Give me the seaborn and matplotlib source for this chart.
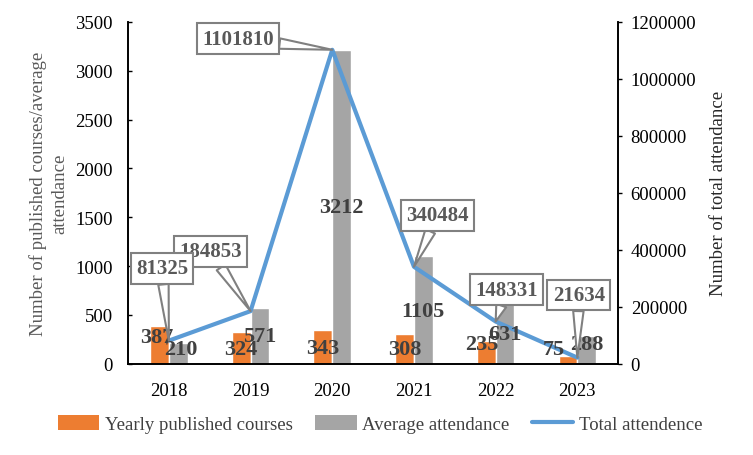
import pandas as pd
import numpy as np
import matplotlib
matplotlib.use("Agg")
import matplotlib.pyplot as plt
import matplotlib.ticker as mticker
import seaborn as sns
from matplotlib.patches import Patch
from matplotlib.lines import Line2D


# =====================================================
# DATA
# =====================================================

years = ["2018", "2019", "2020", "2021", "2022", "2023"]

published_courses = [387, 324, 343, 308, 235, 75]

average_attendance = [210, 571, 3212, 1105, 631, 288]

total_attendance = [81325, 184853, 1101810, 340484, 148331, 21634]


# =====================================================
# STYLE
# =====================================================

ORANGE = "#ED7D31"
GRAY = "#A5A5A5"
BLUE = "#5B9BD5"
TEXT = "#404040"

sns.set_style("white")
plt.rcParams["font.family"] = ["Liberation Serif", "DejaVu Serif"]
plt.rcParams["font.size"] = 13.5

# label nudges in points (x, y) - pulled from the reference layout
course_nudge = [(-2, 6), (0, -1), (0, -1), (0, 0), (-3, 6), (-10, 8)]
avg_nudge = [(2, 3), (0, 0), (0, 0), (0, -1), (0, -1), (0, 4)]

# callout box offsets in points from the line point
callout_offset = [(-5, 52), (-29, 43), (-68, 8), (17, 37), (8, 23), (1, 45)]


# =====================================================
# FRAME
# =====================================================

bars_df = pd.DataFrame({
    "year": years * 2,
    "value": published_courses + average_attendance,
    "series": ["Yearly published courses"] * len(years)
              + ["Average attendance"] * len(years),
})

line_df = pd.DataFrame({
    "year": years,
    "total": total_attendance,
})


# =====================================================
# PLOT
# =====================================================

fig, ax = plt.subplots(figsize=(7.53, 4.56), dpi=100)

fig.subplots_adjust(left=0.17, right=0.821, bottom=0.2, top=0.95)

sns.barplot(
    data=bars_df,
    x="year",
    y="value",
    hue="series",
    palette=[ORANGE, GRAY],
    width=0.46,
    gap=0,
    saturation=1,
    legend=False,
    ax=ax,
)

ax.set_ylim(0, 3500)
ax.set_yticks(np.arange(0, 3501, 500))
ax.set_xlabel("")
ax.set_ylabel(
    "Number of published courses/average\nattendance",
    color="#595959",
    fontsize=13.5,
    linespacing=1.35,
    labelpad=5,
)

ax2 = ax.twinx()

sns.lineplot(
    data=line_df,
    x="year",
    y="total",
    color=BLUE,
    linewidth=3,
    sort=False,
    ax=ax2,
)

ax2.set_ylim(0, 1200000)
ax2.set_yticks(np.arange(0, 1200001, 200000))
ax2.yaxis.set_major_formatter(mticker.FuncFormatter(lambda v, p: f"{v:.0f}"))
ax2.set_ylabel("Number of total attendance", color="#262626",
               fontsize=13.5, labelpad=10)
ax2.set_xlabel("")

for a in (ax, ax2):
    a.spines["top"].set_visible(False)
    for s in ("left", "right", "bottom"):
        a.spines[s].set_color("black")
        a.spines[s].set_linewidth(1.2)
    a.tick_params(axis="x", length=0, pad=13, labelsize=13.5,
                  labelcolor="black")

# left ticks point into the plot, right ticks point outward (Excel look)
ax.tick_params(axis="y", direction="in", length=3, width=1, pad=11,
               colors="black", labelsize=13.5)
ax2.tick_params(axis="y", direction="out", length=3, width=1, pad=6,
                colors="black", labelsize=13.5)

ax.set_xlim(-0.5, len(years) - 0.5)


# =====================================================
# BAR LABELS
# =====================================================

for container, nudges in zip(ax.containers, [course_nudge, avg_nudge]):
    for patch, (dx, dy) in zip(container.patches, nudges):
        cx = patch.get_x() + patch.get_width() / 2
        h = patch.get_height()
        ax2.annotate(
            f"{h:.0f}",
            xy=(cx, h / 2),
            xycoords=ax.transData,
            xytext=(dx, dy),
            textcoords="offset points",
            ha="center",
            va="center",
            fontsize=16,
            fontweight="bold",
            color=TEXT,
            zorder=5,
        )


# =====================================================
# CALLOUTS
# =====================================================

# earlier callouts sit on top of later ones, as in the reference
for i, (val, (ox, oy)) in enumerate(zip(total_attendance, callout_offset)):
    ax2.annotate(
        f"{val}",
        xy=(i, val),
        xytext=(ox, oy),
        textcoords="offset points",
        ha="center",
        va="center",
        fontsize=15,
        fontweight="bold",
        color="#595959",
        bbox=dict(boxstyle="square,pad=0.25", fc="white",
                  ec="#808080", lw=1.5),
        arrowprops=dict(arrowstyle="wedge,tail_width=0.5,shrink_factor=0.5",
                        fc="white", ec="#808080", lw=1.5,
                        shrinkA=0, shrinkB=0),
        zorder=20 - i,
    )


# =====================================================
# LEGEND
# =====================================================

handles = [
    Patch(facecolor=ORANGE, edgecolor="none"),
    Patch(facecolor=GRAY, edgecolor="none"),
    Line2D([0], [0], color=BLUE, linewidth=3, solid_capstyle="round"),
]

fig.legend(
    handles,
    ["Yearly published courses", "Average attendance", "Total attendence"],
    loc="center",
    bbox_to_anchor=(0.505, 0.068),
    ncol=3,
    frameon=False,
    fontsize=13.5,
    handlelength=2.2,
    handleheight=0.9,
    handletextpad=0.3,
    columnspacing=1.2,
    labelcolor=TEXT,
)

plt.savefig("out.png", dpi=100)
plt.close()
